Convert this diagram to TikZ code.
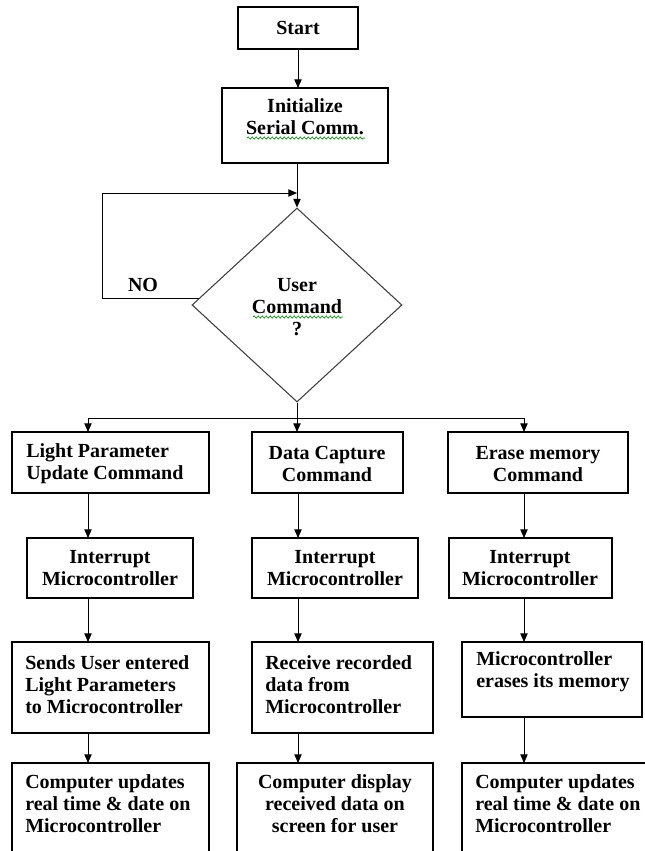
\documentclass[tikz,border=0pt]{standalone}
\usepackage{fontspec}
\setmainfont{Liberation Serif}
\usetikzlibrary{shapes.geometric,arrows.meta,fit,decorations.pathmorphing,calc}
\begin{document}
\begin{tikzpicture}[x=0.75pt,y=-0.75pt,
  box/.style={draw, line width=1pt, inner sep=0pt, outer sep=0pt},
  lbl/.style={font=\fontsize{15}{16.5}\selectfont\bfseries, inner sep=0pt, align=center},
  lbll/.style={lbl, align=left, anchor=west},
  arr/.style={line width=0.75pt, -{Triangle[length=6.5pt,width=5.5pt]}},
  ln/.style={line width=0.75pt},
  squig/.style={draw=green!55!black, line width=0.5pt, decorate, decoration={snake, segment length=3pt, amplitude=0.8pt}}
]
\fill[white] (0,0) rectangle (645,851);
\clip (0,0) rectangle (645,851);

% top
\node[box, fit={(238,7)(358,49)}] (start) {};
\node[lbl] (tstart) at (298,28) {Start};
\node[box, fit={(222,88)(388,163)}] (init) {};
\node[lbl] (tinit) at (305,117) {Initialize\\Serial Comm.};
\draw[squig] (247,138) -- (365,138);

% decision
\node[draw=black!75, line width=0.8pt, diamond, minimum width=157.5pt, minimum height=145.5pt, inner sep=0pt] (dia) at (297,305) {};
\node[lbl] (tdia) at (297,307) {User\\Command\\?};
\draw[squig] (253,317) -- (343,317);
\node[lbl] (tno) at (143,285) {NO};

% row 1
\node[box, fit={(12,432)(209,493)}] (b1) {};
\node[box, fit={(252,432)(403,493)}] (b2) {};
\node[box, fit={(448,432)(628,493)}] (b3) {};
\node[lbll] (tb1) at (26,464) {Light Parameter\\Update Command};
\node[lbl] (tb2) at (327,464) {Data Capture\\Command};
\node[lbl] (tb3) at (538,464) {Erase memory\\Command};

% row 2
\node[box, fit={(27,538)(193,598)}] (i1) {};
\node[box, fit={(252,538)(418,598)}] (i2) {};
\node[box, fit={(449,538)(612,598)}] (i3) {};
\node[lbl] (ti1) at (110,568) {Interrupt\\Microcontroller};
\node[lbl] (ti2) at (335,568) {Interrupt\\Microcontroller};
\node[lbl] (ti3) at (530,568) {Interrupt\\Microcontroller};

% row 3
\node[box, fit={(12,642)(209,733)}] (s1) {};
\node[box, fit={(252,642)(433,733)}] (s2) {};
\node[box, fit={(462,642)(642,717)}] (s3) {};
\node[lbll] (ts1) at (25,685) {Sends User entered\\Light Parameters\\to Microcontroller};
\node[lbll] (ts2) at (265,685) {Receive recorded\\data from\\Microcontroller};
\node[lbll] (ts3) at (476,672) {Microcontroller\\erases its memory};

% row 4
\node[box, fit={(12,763)(209,880)}] (f1) {};
\node[box, fit={(237,763)(433,880)}] (f2) {};
\node[box, fit={(462,763)(652,880)}] (f3) {};
\node[lbll] (tf1) at (25,804) {Computer updates\\real time \& date on\\Microcontroller};
\node[lbl] (tf2) at (335,804) {Computer display\\received data on\\screen for user};
\node[lbll] (tf3) at (475,804) {Computer updates\\real time \& date on\\Microcontroller};

% connectors top
\draw[arr] (start.south) -- (start.south |- init.north);
\coordinate (j) at (297,193);
\coordinate (lc) at (102,298);
\coordinate (lp) at ($(dia.west)!0.07!(dia.north)$);
\draw[arr] (init.south -| dia.north) -- (dia.north);
\draw[arr] (lp) -- (lp -| lc) -- (lc |- j) -- (j);

% branch
\coordinate (br) at (297,418);
\coordinate (br1) at (88,418);
\coordinate (br3) at (524,418);
\draw[ln] (dia.south) -- (br);
\draw[ln] (br1) -- (br3);
\draw[arr] (br1) -- (br1 |- b1.north);
\draw[arr] (br) -- (br |- b2.north);
\draw[arr] (br3) -- (br3 |- b3.north);

% columns
\coordinate (cL) at (88,0);
\coordinate (cM) at (298,0);
\coordinate (cR) at (524,0);
\draw[arr] (cL |- b1.south) -- (cL |- i1.north);
\draw[arr] (cL |- i1.south) -- (cL |- s1.north);
\draw[arr] (cL |- s1.south) -- (cL |- f1.north);
\draw[arr] (cM |- b2.south) -- (cM |- i2.north);
\draw[arr] (cM |- i2.south) -- (cM |- s2.north);
\draw[arr] (cM |- s2.south) -- (cM |- f2.north);
\draw[arr] (cR |- b3.south) -- (cR |- i3.north);
\draw[arr] (cR |- i3.south) -- (cR |- s3.north);
\draw[arr] (cR |- s3.south) -- (cR |- f3.north);
\end{tikzpicture}
\end{document}
